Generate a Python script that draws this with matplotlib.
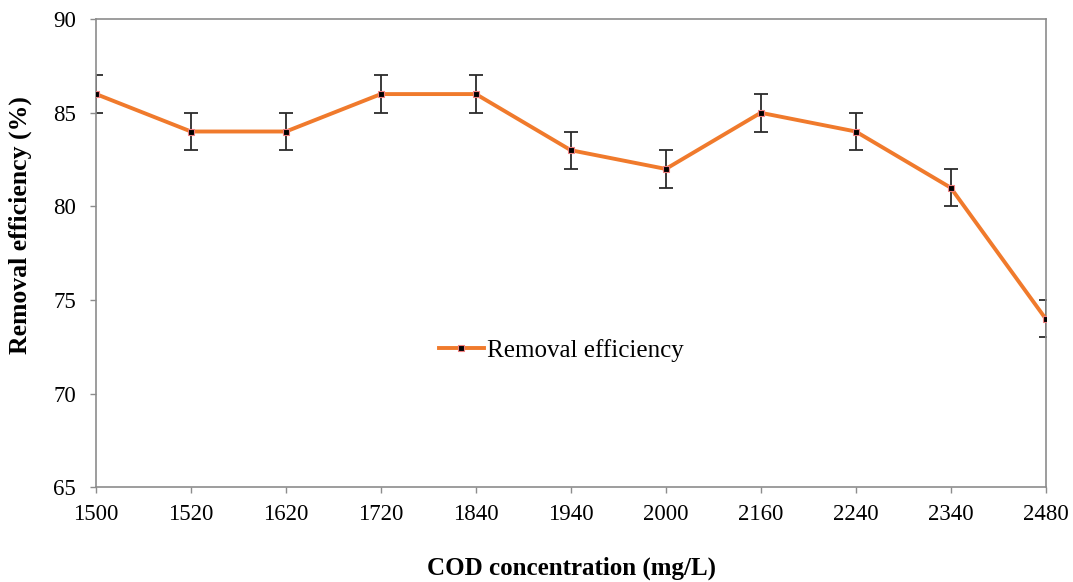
import matplotlib
matplotlib.use("Agg")
import matplotlib.pyplot as plt

categories = ["1500", "1520", "1620", "1720", "1840", "1940", "2000", "2160", "2240", "2340", "2480"]
removal_efficiency = [86, 84, 84, 86, 86, 83, 82, 85, 84, 81, 74]
errors = [1, 1, 1, 1, 1, 1, 1, 1, 1, 1, 1]
y_ticks = [65, 70, 75, 80, 85, 90]

plt.rcParams['font.family'] = ['Liberation Serif', 'DejaVu Serif']

fig = plt.figure(figsize=(10.73, 5.82), dpi=100)
ax = fig.add_axes([0.0895, 0.163, 0.885, 0.804])

x = list(range(len(categories)))
ax.errorbar(x, removal_efficiency, yerr=errors, fmt='none', ecolor='#2b2b2b',
            elinewidth=1.3, capsize=4.8, capthick=1.3, zorder=2)
ax.plot(x, removal_efficiency, color='#F07A2C', linewidth=2.8, marker='s',
        markersize=4, markerfacecolor='black', markeredgecolor='#F08080',
        markeredgewidth=0.8, label='Removal efficiency', zorder=3)

ax.set_xlim(0, len(categories) - 1)
ax.set_ylim(65, 90)
ax.set_xticks(x)
ax.set_xticklabels(categories)
ax.set_yticks(y_ticks)

for s in ax.spines.values():
    s.set_color('#8c8c8c')
    s.set_linewidth(1.2)
ax.tick_params(axis='both', direction='out', length=4.5, width=1.0, color='#8c8c8c',
               labelsize=16.5)
ax.tick_params(axis='x', pad=8)
ax.tick_params(axis='y', pad=10)

ax.set_xlabel('COD concentration (mg/L)', fontsize=18, fontweight='bold', va='center')
ax.xaxis.set_label_coords(0.501, -0.173)
ax.set_ylabel('Removal efficiency (%)', fontsize=18.5, fontweight='bold', va='center')
ax.yaxis.set_label_coords(-0.08, 0.56)

ax.legend(loc='center left', bbox_to_anchor=(0.337, 0.293), frameon=False,
          fontsize=18, handlelength=1.8, handletextpad=0.15)

fig.savefig('out.png', dpi=100)
